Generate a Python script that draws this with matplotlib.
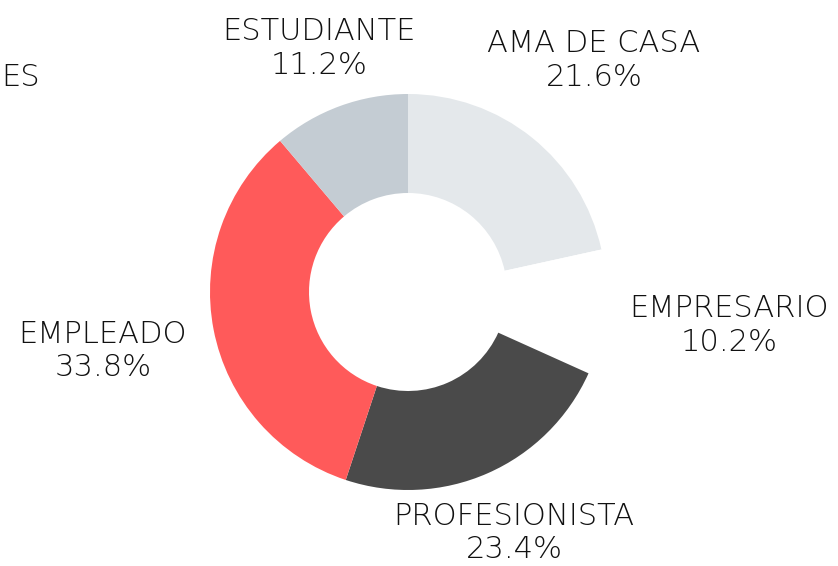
import matplotlib.pyplot as plt
import numpy as np

# datos
categorias = ['AMA DE CASA', 'EMPRESARIO', 'PROFESIONISTA', 'EMPLEADO', 'ESTUDIANTE']
porcentajes = [21.6, 10.2, 23.4, 33.8, 11.2]
colores = ['#e4e8eb', '#ffffff', '#4a4a4a', '#ff5a5a', '#c4ccd3']
# distancia de cada etiqueta (en radios)
dist_etiqueta = [1.5, 1.63, 1.33, 1.57, 1.31]

W, H = 838, 566
fig = plt.figure(figsize=(W / 100, H / 100), dpi=100)
ax = fig.add_axes([0, 0, 1, 1])

cx, cy, R = 408, H - 292, 198
wedges, _ = ax.pie(porcentajes, colors=colores, startangle=90, counterclock=False,
                   center=(cx, cy), radius=R, frame=True,
                   wedgeprops=dict(width=R * 0.5, linewidth=0))
ax.set_xlim(0, W)
ax.set_ylim(0, H)
ax.set_aspect('equal')
ax.axis('off')

fuente = ['DejaVu Sans']
for w, nombre, p, d in zip(wedges, categorias, porcentajes, dist_etiqueta):
    ang = np.deg2rad((w.theta1 + w.theta2) / 2)
    x = cx + R * d * np.cos(ang)
    y = cy + R * d * np.sin(ang)
    ax.text(x, y, f'{nombre}\n{p}%', ha='center', va='center', fontsize=22,
            family=fuente, fontweight='light', color='#111111', linespacing=1.2)

# titulo cortado en el borde izquierdo
ax.text(1, H - 77, 'ES', ha='left', va='center', fontsize=22,
        family=fuente, fontweight='light', color='#111111')

fig.savefig('out.png', dpi=100)
